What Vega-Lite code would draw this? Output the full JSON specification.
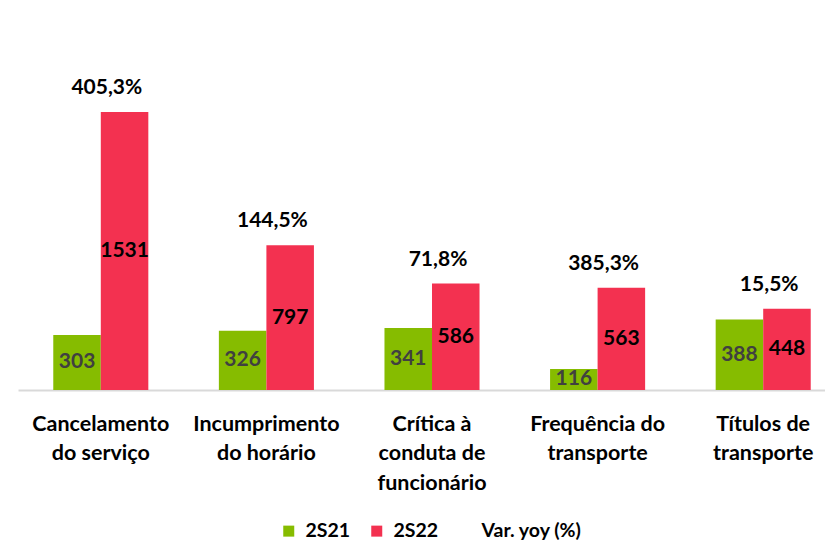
{
  "$schema": "https://vega.github.io/schema/vega-lite/v6.json",
  "width": 807,
  "height": 390,
  "autosize": {"type": "none"},
  "padding": {"left": 18, "top": 0, "right": 0, "bottom": 154},
  "background": "white",
  "config": {"view": {"stroke": null}, "font": "Lato"},
  "datasets": {
    "bars": [
      {"category": "Cancelamento|do serviço", "series": "2S21", "value": 303},
      {"category": "Cancelamento|do serviço", "series": "2S22", "value": 1531},
      {"category": "Incumprimento|do horário", "series": "2S21", "value": 326},
      {"category": "Incumprimento|do horário", "series": "2S22", "value": 797},
      {"category": "Crítica à|conduta de|funcionário", "series": "2S21", "value": 341},
      {"category": "Crítica à|conduta de|funcionário", "series": "2S22", "value": 586},
      {"category": "Frequência do|transporte", "series": "2S21", "value": 116},
      {"category": "Frequência do|transporte", "series": "2S22", "value": 563},
      {"category": "Títulos de|transporte", "series": "2S21", "value": 388},
      {"category": "Títulos de|transporte", "series": "2S22", "value": 448}
    ],
    "yoy": [
      {"category": "Cancelamento|do serviço", "value2S22": 1531, "yoy": "405,3%"},
      {"category": "Incumprimento|do horário", "value2S22": 797, "yoy": "144,5%"},
      {"category": "Crítica à|conduta de|funcionário", "value2S22": 586, "yoy": "71,8%"},
      {"category": "Frequência do|transporte", "value2S22": 563, "yoy": "385,3%"},
      {"category": "Títulos de|transporte", "value2S22": 448, "yoy": "15,5%"}
    ]
  },
  "encoding": {
    "x": {
      "field": "category",
      "type": "nominal",
      "sort": null,
      "scale": {"range": [0, 828], "paddingInner": 0.426, "paddingOuter": 0.213},
      "axis": {
        "title": null,
        "labelAngle": 0,
        "labelExpr": "split(datum.label, '|')",
        "labelFont": "Lato",
        "labelFontWeight": "bold",
        "labelFontSize": 21.5,
        "labelColor": "#000000",
        "labelLineHeight": 29.5,
        "labelPadding": 23,
        "labelLimit": 300,
        "ticks": false,
        "domainColor": "#D9D9D9",
        "domainWidth": 2,
        "grid": false
      }
    }
  },
  "layer": [
    {
      "data": {"name": "bars"},
      "mark": {"type": "bar"},
      "encoding": {
        "xOffset": {"field": "series", "type": "nominal", "scale": {"paddingInner": 0, "paddingOuter": 0}},
        "y": {"field": "value", "type": "quantitative", "scale": {"domain": [0, 2148], "nice": false}, "axis": null},
        "color": {
          "field": "series",
          "type": "nominal",
          "scale": {"domain": ["2S21", "2S22", "Var. yoy (%)"], "range": ["#86BC00", "#F33150", "transparent"]},
          "legend": {
            "title": null,
            "orient": "none",
            "legendX": 261,
            "legendY": 521,
            "direction": "horizontal",
            "symbolType": "square",
            "symbolSize": 121,
            "symbolStrokeWidth": 0,
            "labelFont": "Lato",
            "labelFontWeight": "bold",
            "labelFontSize": 19.5,
            "labelColor": "#000000",
            "labelOffset": 7,
            "columnPadding": 16
          }
        }
      }
    },
    {
      "data": {"name": "bars"},
      "transform": [{"calculate": "datum.value / 2", "as": "mid"}],
      "mark": {"type": "text", "font": "Lato", "fontWeight": "bold", "fontSize": 21, "baseline": "middle", "align": "center"},
      "encoding": {
        "xOffset": {"field": "series", "type": "nominal"},
        "y": {"field": "mid", "type": "quantitative", "scale": {"domain": [0, 2148], "nice": false}},
        "text": {"field": "value", "type": "quantitative"},
        "color": {"condition": {"test": "datum.series === '2S21'", "value": "#404040"}, "value": "#000000"}
      }
    },
    {
      "data": {"name": "yoy"},
      "mark": {"type": "text", "font": "Lato", "fontWeight": "bold", "fontSize": 21, "baseline": "middle", "align": "center", "dy": -24, "dx": 6, "color": "#000000"},
      "encoding": {
        "y": {"field": "value2S22", "type": "quantitative", "scale": {"domain": [0, 2148], "nice": false}},
        "text": {"field": "yoy", "type": "nominal"}
      }
    }
  ]
}
